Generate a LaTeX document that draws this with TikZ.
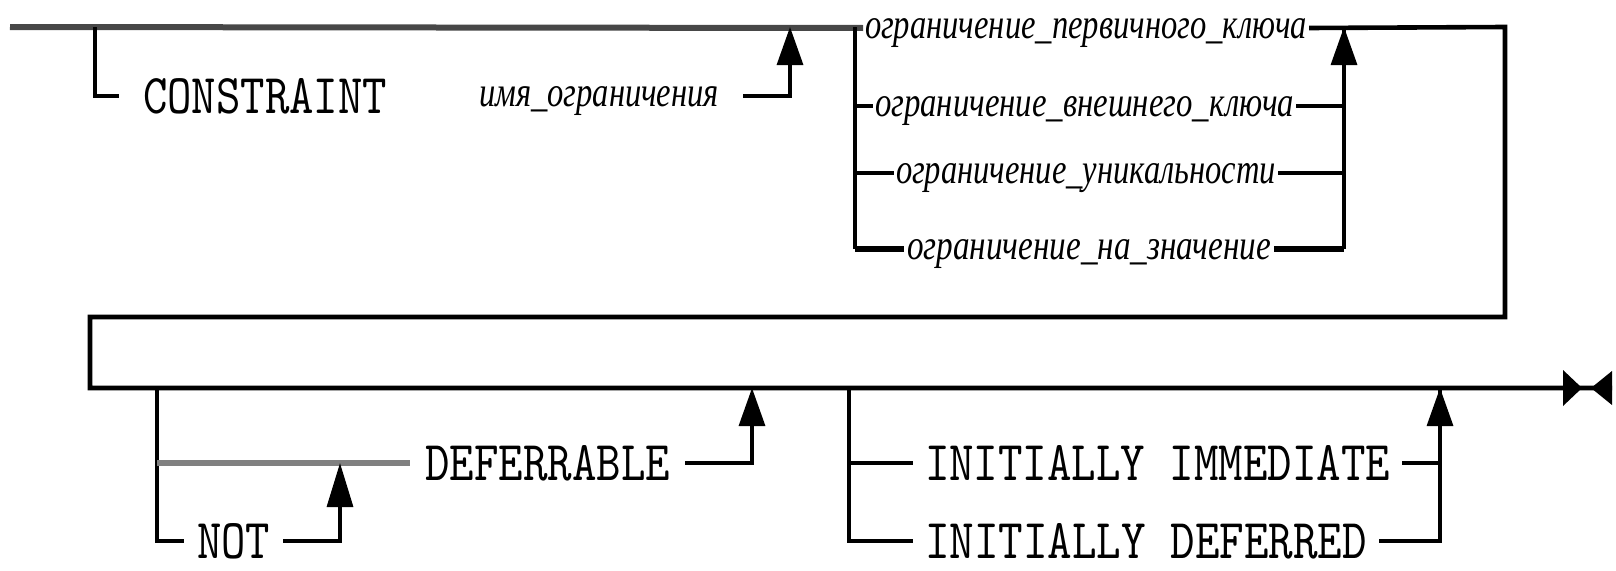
\documentclass[tikz,border=0pt]{standalone}
\usepackage{fontspec}
\usepackage{graphicx}
\usetikzlibrary{arrows.meta}
\newfontfamily\cyrfont{Liberation Serif}

% keyword: typewriter capitals set to a given width and cap height, centred on the baseline
\newcommand\kwtext[2]{\raisebox{-17.5pt}[17.5pt][17.5pt]{\resizebox{#1pt}{35pt}{\ttfamily #2}}}
% name: italic lower case set to a given width and x-height, centred on the baseline
\newcommand\nmtext[2]{\raisebox{-10pt}[10pt][10pt]{\resizebox{#1pt}{20pt}{\cyrfont\itshape #2}}}

\tikzset{
  kw/.style={inner sep=0pt, outer xsep=12pt, anchor=west},
  nm/.style={inner sep=0pt, outer xsep=2pt, anchor=west},
  rail/.style={line width=3.2pt},
  mainline/.style={line width=4.6pt},
  topline/.style={line width=6pt, draw=black!72},
  softline/.style={line width=6pt, draw=black!50},
  heavystub/.style={line width=6pt},
  uparrow/.style={-{Triangle[length=38pt,width=26pt]}},
  longuparrow/.style={-{Triangle[length=44pt,width=26pt]}},
}

\begin{document}
\begin{tikzpicture}[x=1pt,y=-1pt]
\useasboundingbox (0,0) rectangle (1616,570);

% ---- first line: optional constraint name and the kind of constraint
\node[kw, outer xsep=24pt] (constraint) at (119,96) {\kwtext{244}{CONSTRAINT}};
\node[nm, outer xsep=24pt] (cname) at (455,96) {\nmtext{240}{имя\_ограничения}};

\node[nm] (pk)  at (863,28)  {\nmtext{442}{ограничение\_первичного\_ключа}};
\node[nm] (fk)  at (873,106) {\nmtext{419}{ограничение\_внешнего\_ключа}};
\node[nm] (uq)  at (894,173) {\nmtext{380}{ограничение\_уникальности}};
\node[nm, outer xsep=3pt] (ck)  at (904,249) {\nmtext{364}{ограничение\_на\_значение}};

\coordinate (start) at (10,27);
\coordinate (jc)    at (95,27);
\coordinate (jn)    at (790,27);
\coordinate (jo)    at (855,27);
\coordinate (jr)    at (1344,27);
\coordinate (tr)    at (1505,27);
\coordinate (mr)    at (1505,317);
\coordinate (ml)    at (90,317);
\coordinate (bl)    at (90,388);
\coordinate (stop)  at (1612,388);

\draw[topline] (start) -- (pk.west);
\draw[rail] (jc) |- (constraint.west);
\draw[rail, uparrow] (cname.east) -| (jn);

\draw[rail] (jo) -- (jo |- ck.west);
\draw[rail] (jo) |- (fk.west);
\draw[rail] (jo) |- (uq.west);
\draw[heavystub] (jo |- ck.west) -- (ck.west);
\draw[rail] (fk.east) -| (jr);
\draw[rail] (uq.east) -| (jr);
\draw[heavystub] (ck.east) -- (jr |- ck.east);
\draw[rail, uparrow] (jr |- ck.east) -- (jr);

% ---- wrap-around to the second line
\draw[mainline, line join=miter] (pk.east) -- (tr) -- (mr) -- (ml) -- (bl) -- (stop);

% end of statement marker
\fill (1563,370) -- (1582,388) -- (1563,406) -- cycle;
\fill (1612,371) -- (1591,388) -- (1612,405) -- cycle;

% ---- second line: deferrability and initial mode
\node[kw, outer xsep=15pt] (deferrable) at (410,463) {\kwtext{245}{DEFERRABLE}};
\node[kw, outer xsep=13pt] (not) at (184,541) {\kwtext{73}{NOT}};
\node[kw] (immediate) at (913,463) {\kwtext{465}{INITIALLY IMMEDIATE}};
\node[kw] (deferred)  at (913,541) {\kwtext{442}{INITIALLY DEFERRED}};

\coordinate (j1) at (157,388);
\coordinate (jd) at (752,388);
\coordinate (jnot) at (340,463);
\coordinate (j2) at (849,388);
\coordinate (ji) at (1440,388);

\draw[rail] (j1) |- (not.west);
\draw[softline] (j1 |- deferrable.west) -- (deferrable.west);
\draw[rail, longuparrow] (not.east) -| (jnot);
\draw[rail, uparrow] (deferrable.east) -| (jd);

\draw[rail] (j2) |- (immediate.west);
\draw[rail] (j2) |- (deferred.west);
\draw[rail] (immediate.east) -| (ji);
\draw[rail, uparrow] (deferred.east) -| (ji);
\end{tikzpicture}
\end{document}
